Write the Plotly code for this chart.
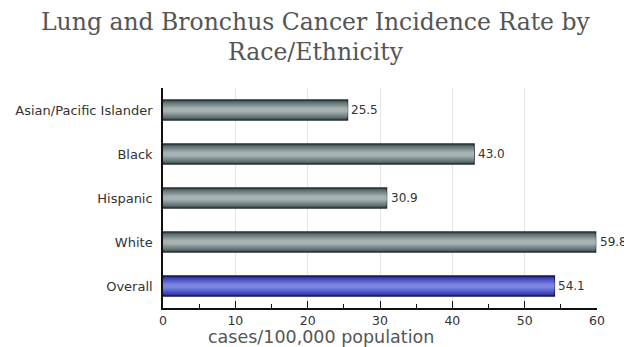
import plotly.graph_objects as go

categories = ["Asian/Pacific Islander", "Black", "Hispanic", "White", "Overall"]
rates = [25.5, 43.0, 30.9, 59.8, 54.1]
x_ticks = [0, 10, 20, 30, 40, 50, 60]

n_gray = 4
edge_cols = ["#22302f"] * n_gray + ["#10144e"]
# layered shading (outer -> inner) to mimic the cylinder gradient
gray_shades = ["#4b5a5c", "#617072", "#788687", "#909c9d", "#a6b1b1"]
blue_shades = ["#2f34a0", "#3e44b6", "#5057c8", "#666dd6", "#7d84e0"]
widths = [0.46, 0.38, 0.30, 0.21, 0.11]

fig = go.Figure()
for i, (w, g, b) in enumerate(zip(widths, gray_shades, blue_shades)):
    first = i == 0
    fig.add_trace(go.Bar(
        y=categories, x=rates, orientation="h", width=w,
        marker=dict(color=[g] * n_gray + [b],
                    line=dict(color=edge_cols, width=1.5 if first else 0)),
        hoverinfo="skip"))

value_labels = [dict(x=v, y=c, text=f"{v:.1f}", xref="x", yref="y",
                     xanchor="left", yanchor="middle", xshift=2, showarrow=False,
                     font=dict(family="DejaVu Sans", size=12, color="#333"))
                for c, v in zip(categories, rates)]

fig.update_layout(
    width=624, height=339,
    barmode="overlay", showlegend=False,
    plot_bgcolor="white", paper_bgcolor="white",
    margin=dict(l=155, r=35, t=80, b=39, autoexpand=False),
    xaxis=dict(range=[0, 60], tickvals=x_ticks, showgrid=True, gridcolor="#e6e6e6",
               gridwidth=1, zeroline=False, showline=True, linecolor="#111", linewidth=1.5,
               ticks="inside", ticklen=7, tickcolor="#111", tickwidth=1,
               minor=dict(dtick=5, ticks="inside", ticklen=4, tickcolor="#111", showgrid=False),
               tickfont=dict(family="DejaVu Sans", size=12.5, color="#333")),
    yaxis=dict(categoryorder="array", categoryarray=categories, autorange="reversed",
               showline=True, linecolor="#111", linewidth=1.5, showgrid=False,
               ticks="", ticklabelstandoff=6,
               tickfont=dict(family="DejaVu Sans", size=13, color="#333")),
    annotations=value_labels + [
        dict(text="Lung and Bronchus Cancer Incidence Rate by", xref="paper", yref="paper",
             x=0.3525, y=1.30, xanchor="center", yanchor="middle", showarrow=False,
             font=dict(family="DejaVu Serif", size=23.5, color="#555")),
        dict(text="Race/Ethnicity", xref="paper", yref="paper",
             x=0.3525, y=1.1636, xanchor="center", yanchor="middle", showarrow=False,
             font=dict(family="DejaVu Serif", size=23.5, color="#555")),
        dict(text="cases/100,000 population", xref="paper", yref="paper",
             x=0.364, y=-0.13, xanchor="center", yanchor="middle", showarrow=False,
             font=dict(family="DejaVu Sans", size=17.5, color="#555")),
    ],
)

fig.write_html("out.html")
